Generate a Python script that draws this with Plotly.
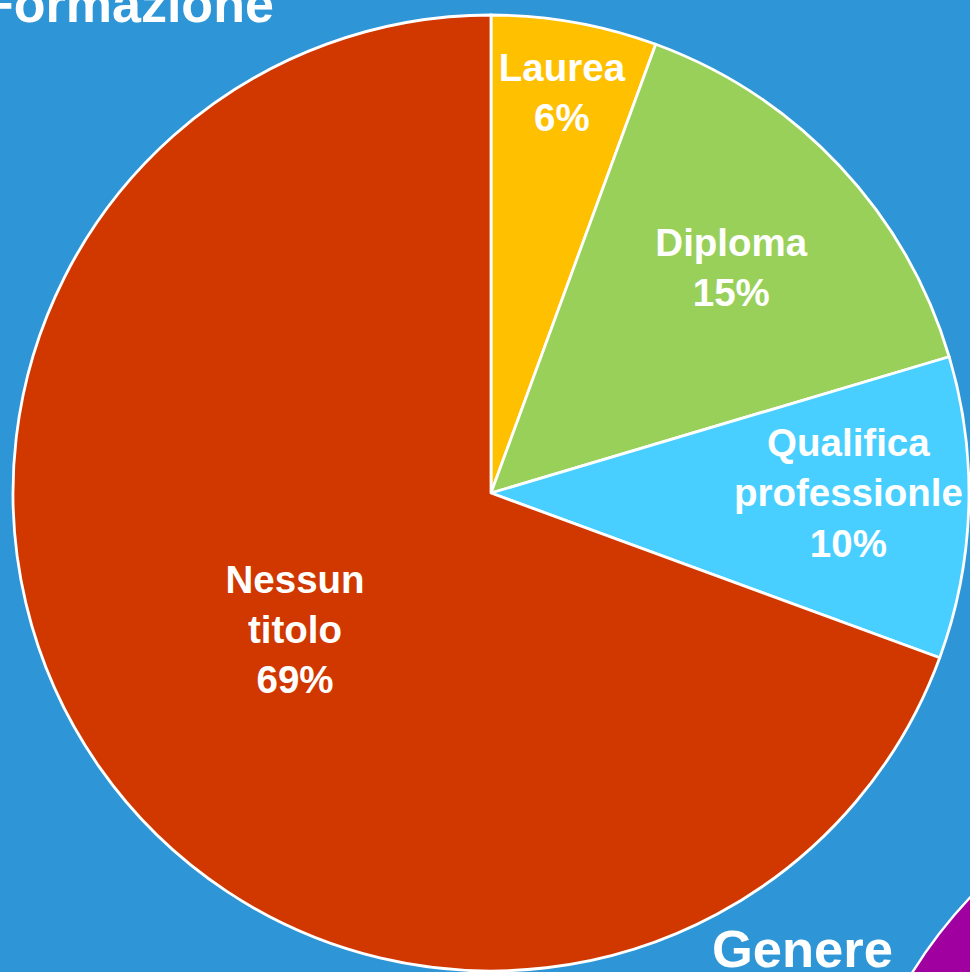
import plotly.graph_objects as go

# Data (share of respondents by education level)
categories = ["Laurea", "Diploma", "Qualifica<br>professionle", "Nessun<br>titolo"]
values = [5.6, 14.8, 10.2, 69.4]
colors = ["#FFC000", "#99D05A", "#48CFFF", "#D03800"]

title_main = "Formazione"
title_next = "Genere"

W, H = 970, 972
BG = "#2E96D6"
FONT = "Arial, Liberation Sans, sans-serif"
LABEL_SIZE = 38.5

fig = go.Figure()
fig.add_trace(go.Pie(
    labels=categories,
    values=values,
    sort=False,
    direction="clockwise",
    rotation=0,
    marker=dict(colors=colors, line=dict(color="white", width=2.8)),
    texttemplate="%{label}<br>%{percent:.0%}",
    textposition="inside",
    insidetextorientation="horizontal",
    textfont=dict(family=FONT, size=LABEL_SIZE, color="white", weight="bold"),
    domain=dict(x=[13 / W, 969 / W], y=[1 / H, 957 / H]),
    showlegend=False,
    hoverinfo="label+percent",
))

fig.update_layout(
    width=W, height=H,
    margin=dict(l=0, r=0, t=0, b=0),
    paper_bgcolor=BG, plot_bgcolor=BG,
    uniformtext=dict(minsize=LABEL_SIZE, mode="show"),
    font=dict(family=FONT, color="white"),
    annotations=[
        dict(text="<b>" + title_main + "</b>", xref="paper", yref="paper",
             x=-20 / W, y=1 - 4 / H, xanchor="left", yanchor="middle",
             showarrow=False, font=dict(size=52, color="white")),
        dict(text="<b>" + title_next + "</b>", xref="paper", yref="paper",
             x=710 / W, y=(H - 948) / H, xanchor="left", yanchor="middle",
             showarrow=False, font=dict(size=52.5, color="white")),
    ],
    shapes=[
        dict(type="circle", xref="paper", yref="paper", layer="below",
             x0=(1320 - 480) / W, x1=(1320 + 480) / W,
             y0=(H - 1226 - 480) / H, y1=(H - 1226 + 480) / H,
             fillcolor="#A000A0", line=dict(color="white", width=2.5)),
    ],
)

fig.write_html(
    "out.html",
    config={"displayModeBar": False},
    post_script="document.body.style.margin='0';document.body.style.overflow='hidden';"
                "document.body.style.background='" + BG + "';",
)
